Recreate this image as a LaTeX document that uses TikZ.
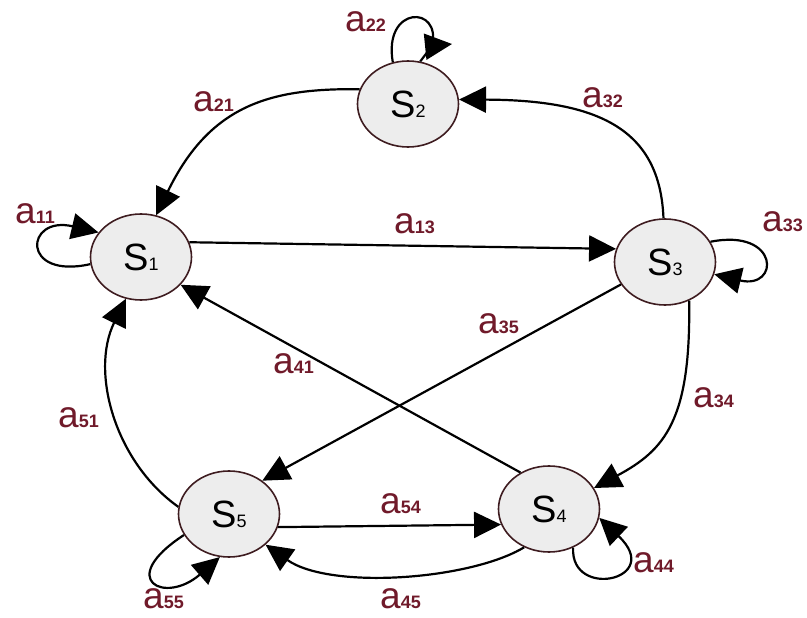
\documentclass[tikz,border=0pt]{standalone}
\usepackage{fontspec}
\setmainfont{Liberation Sans}
\usetikzlibrary{shapes.geometric,arrows.meta}
\definecolor{labcol}{RGB}{112,26,42}
\definecolor{nodefill}{RGB}{237,237,237}
\definecolor{nodeborder}{RGB}{62,28,32}
\newcommand\alab[2]{{\fontsize{37}{37}\selectfont #1}{\fontsize{18}{18}\selectfont\bfseries #2}}
\newcommand\slab[2]{{\fontsize{38}{38}\selectfont #1}{\fontsize{18}{18}\selectfont #2}}
\tikzset{
  state/.style={ellipse, draw=nodeborder, line width=1.6pt, fill=nodefill,
    minimum width=101pt, minimum height=86pt, inner sep=0pt},
  edge/.style={line width=2.2pt, draw=black, -{Triangle[length=27pt,width=26pt]}},
  plainedge/.style={line width=2.2pt, draw=black},
  lbl/.style={anchor=base west, inner sep=0pt, text=labcol}
}
\begin{document}
\begin{tikzpicture}[x=1pt,y=1pt]
\useasboundingbox (0,0) rectangle (807,-618);
% states
\node[state] (s1) at (141,-257) {\slab{S}{1}};
\node[state] (s2) at (408,-104) {\slab{S}{2}};
\node[state] (s3) at (665,-262) {\slab{S}{3}};
\node[state] (s4) at (549,-509) {\slab{S}{4}};
\node[state] (s5) at (229,-514) {\slab{S}{5}};
% helper coordinates
\coordinate (t22) at (452,-44);
\coordinate (k22) at (432,-46);
% transitions
\draw[edge] (s1.17) -- (s3.165);
\draw[edge] (s2.163) .. controls (270,-88) and (210,-105) .. (s1.70);
\draw[edge] (s3.92) .. controls (660,-130) and (600,-100) .. (s2.5);
\draw[edge] (s3.-58) .. controls (691,-420) and (665,-450) .. (s4.25);
\draw[edge] (s3.207) -- (s5.45);
\draw[edge] (s4.128) -- (s1.-35);
\draw[edge] (s5.172) .. controls (115,-462) and (90,-372) .. (s1.250);
\draw[edge] (s5.-15) -- (s4.198);
\draw[edge] (s4.237) .. controls (470,-580) and (330,-590) .. (s5.-40);
% self loops
\draw[edge] (s1.188) .. controls (20,-280) and (25,-215) .. (s1.150);
\draw[edge] (s3.24) .. controls (780,-228) and (780,-290) .. (s3.-14);
\draw[edge] (s5.205) .. controls (115,-580) and (165,-605) .. (s5.258);
\draw[edge] (s4.-58) .. controls (570,-600) and (665,-580) .. (s4.-10);
\draw[edge] (s2.110) .. controls (383,-5) and (442,-5) .. (k22) -- (t22);
\draw[plainedge] (k22) -- (s2.74);
% labels
\node[lbl] (l22) at (345,-32) {\alab{a}{22}};
\node[lbl] (l21) at (193,-112) {\alab{a}{21}};
\node[lbl] (l32) at (582,-107) {\alab{a}{32}};
\node[lbl] (l11) at (15,-223) {\alab{a}{11}};
\node[lbl] (l13) at (394,-233) {\alab{a}{13}};
\node[lbl] (l33) at (762,-231) {\alab{a}{33}};
\node[lbl] (l35) at (478,-333) {\alab{a}{35}};
\node[lbl] (l41) at (273,-373) {\alab{a}{41}};
\node[lbl] (l51) at (58,-427) {\alab{a}{51}};
\node[lbl] (l34) at (693,-407) {\alab{a}{34}};
\node[lbl] (l54) at (380,-513) {\alab{a}{54}};
\node[lbl] (l45) at (380,-608) {\alab{a}{45}};
\node[lbl] (l44) at (633,-572) {\alab{a}{44}};
\node[lbl] (l55) at (143,-608) {\alab{a}{55}};
\end{tikzpicture}
\end{document}
